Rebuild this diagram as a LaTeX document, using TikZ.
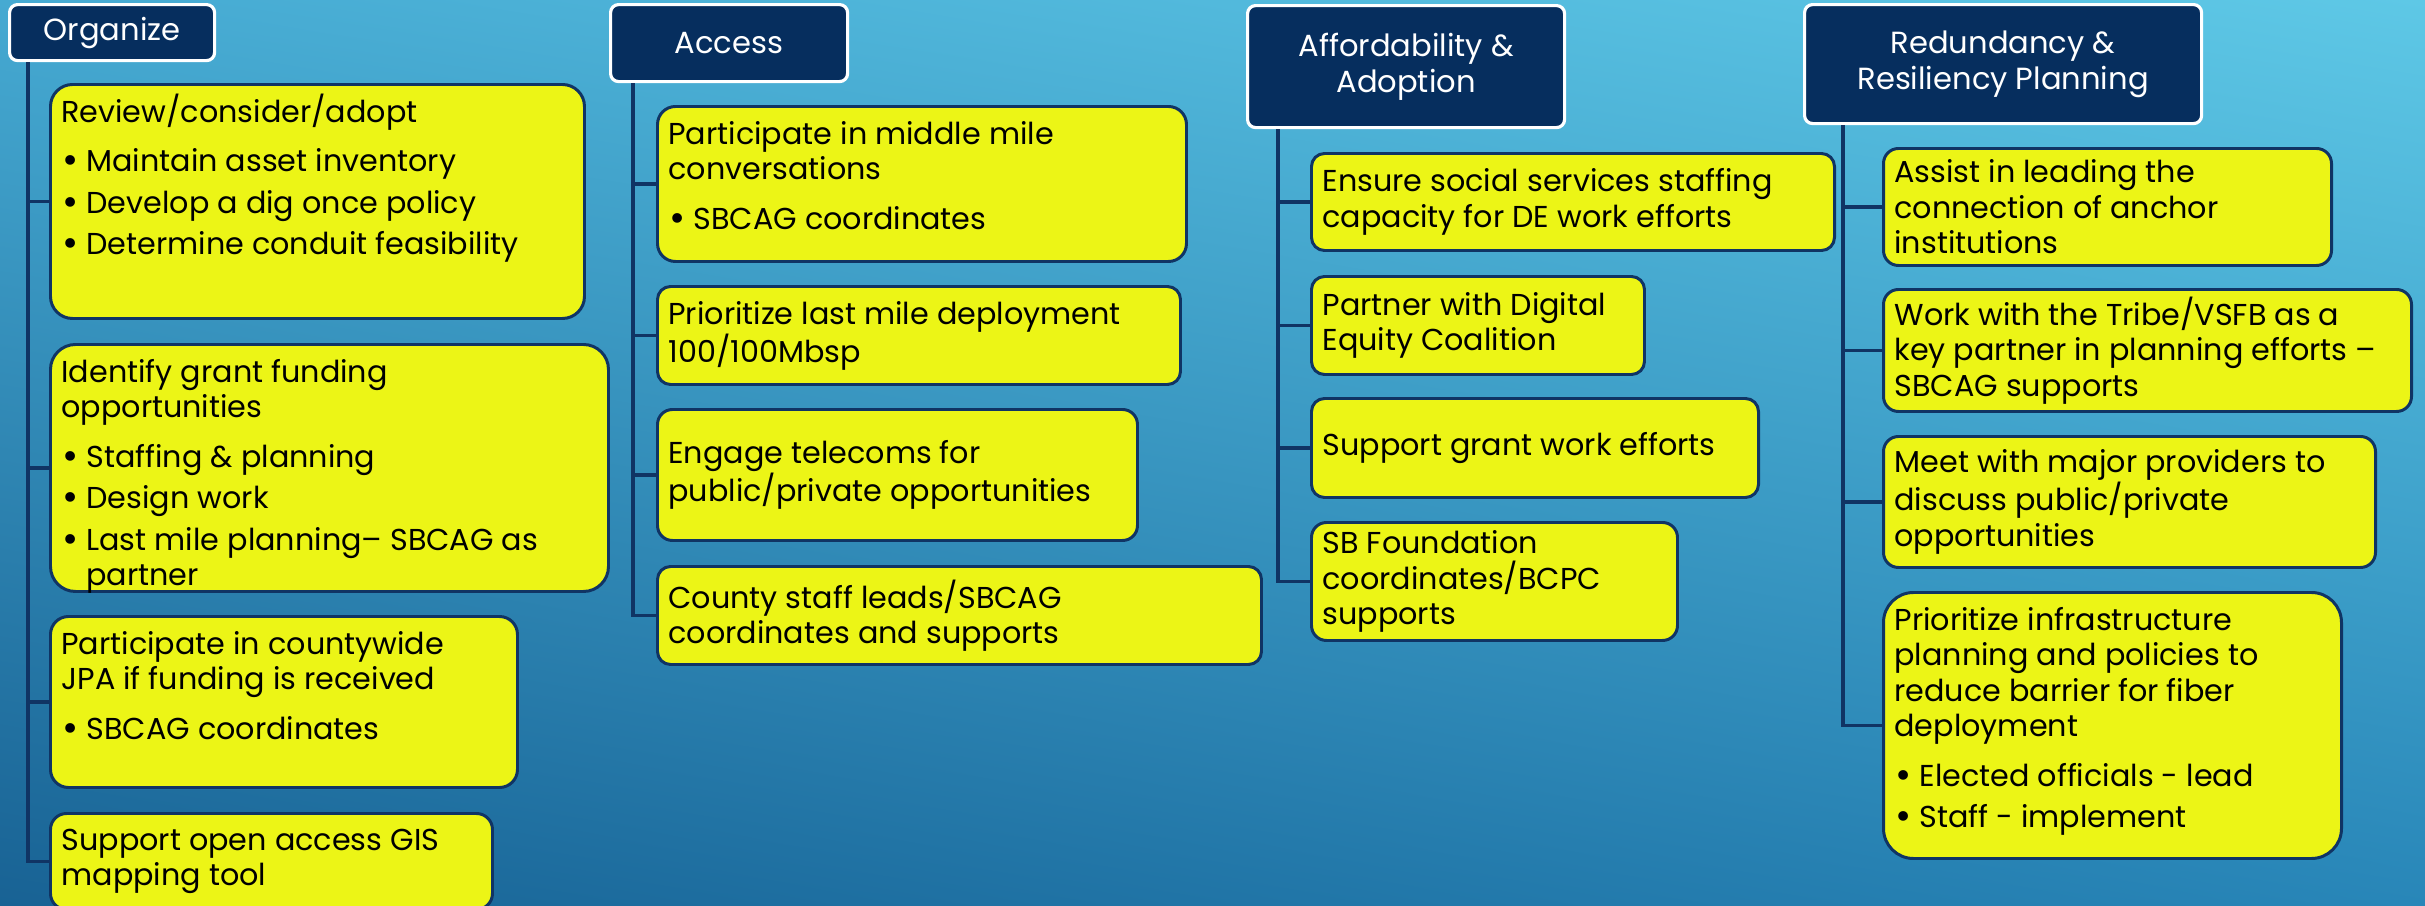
\documentclass[tikz,border=0pt]{standalone}
\usepackage{fontspec}
\setmainfont{Poppins}
\usetikzlibrary{positioning, shadings}
\definecolor{HeadColor}{RGB}{6,46,94}
\definecolor{CardColor}{RGB}{236,245,22}
\definecolor{EdgeColor}{RGB}{16,52,100}
\definecolor{SkyTopLeft}{RGB}{70,170,210}
\definecolor{SkyTopRight}{RGB}{94,200,230}
\definecolor{SkyLowLeft}{RGB}{24,98,148}
\definecolor{SkyLowRight}{RGB}{40,134,184}

% one pixel of the slide
\newdimen\px \px=0.02cm
\newcommand{\cardsetup}{\raggedright\fontsize{17.2}{20.2}\selectfont}
\newcommand{\toptext}[3]{\begin{minipage}[c][#2\px][t]{\dimexpr#1\px-22\px\relax}\cardsetup\rule{0pt}{38\px}#3\end{minipage}}
\newcommand{\midtext}[3]{\begin{minipage}[c][#2\px][c]{\dimexpr#1\px-22\px\relax}\cardsetup#3\end{minipage}}
\newcommand{\headtext}[3]{\begin{minipage}[c][#2\px][c]{#1\px}\centering\fontsize{17.4}{20.2}\selectfont#3\end{minipage}}
\newcommand{\bul}[2][6]{\par\vspace{#1\px}\hangindent=25\px\hangafter=1\noindent\hspace*{1\px}\makebox[24\px][l]{\raisebox{-0.1ex}{\scalebox{1.3}{\textbullet}}}#2}

\tikzset{
  head/.style={draw=white, line width=1.8pt, fill=HeadColor, text=white, rounded corners=0.16cm, inner sep=0pt, anchor=north west},
  card/.style={draw=EdgeColor, line width=1.7pt, fill=CardColor, inner xsep=0.22cm, inner ysep=0pt, anchor=north west},
  link/.style={draw=EdgeColor, line width=1.8pt}
}

\begin{document}
\begin{tikzpicture}[x=0.02cm, y=-0.02cm]
  % slide background
  \shade[upper left=SkyTopLeft, upper right=SkyTopRight, lower left=SkyLowLeft, lower right=SkyLowRight] (0,0) rectangle (2425,906);
  \useasboundingbox (0,0) rectangle (2425,906);
  \clip (0,0) rectangle (2425,906);

  % Organize
  \node[head] (org) at (8,3) {\headtext{205}{56}{Organize}};
  \node[card, rounded corners=0.44cm] (org1) at (49,83) {\toptext{534}{234}{Review/consider/adopt
      \bul[14]{Maintain asset inventory}
      \bul{Develop a dig once policy}
      \bul{Determine conduit feasibility}}};
  \node[card, rounded corners=0.5cm] (org2) at (49,343) {\toptext{558}{247}{Identify grant funding\\opportunities
      \bul[14]{Staffing \& planning}
      \bul{Design work}
      \bul{Last mile planning– SBCAG as\newline partner}}};
  \node[card, rounded corners=0.36cm] (org3) at (49,615) {\toptext{467}{171}{Participate in countywide\\JPA if funding is received
      \bul[14]{SBCAG coordinates}}};
  \node[card, rounded corners=0.32cm] (org4) at (49,812) {\midtext{442}{96}{Support open access GIS\\mapping tool}};

  % Access
  \node[head] (acc) at (609,3) {\headtext{237}{77}{Access}};
  \node[card, rounded corners=0.36cm] (acc1) at (656,105) {\toptext{529}{155}{Participate in middle mile\\conversations
      \bul[14]{SBCAG coordinates}}};
  \node[card, rounded corners=0.26cm] (acc2) at (656,285) {\midtext{523}{98}{Prioritize last mile deployment\\100/100Mbsp}};
  \node[card, rounded corners=0.3cm] (acc3) at (656,408) {\midtext{480}{131}{Engage telecoms for\\public/private opportunities}};
  \node[card, rounded corners=0.26cm] (acc4) at (656,565) {\midtext{604}{98}{County staff leads/SBCAG\\coordinates and supports}};

  % Affordability & Adoption
  \node[head] (aff) at (1246,4) {\headtext{317}{122}{Affordability \&\\Adoption}};
  \node[card, rounded corners=0.26cm] (aff1) at (1310,152) {\midtext{523}{97}{Ensure social services staffing\\capacity for DE work efforts}};
  \node[card, rounded corners=0.26cm] (aff2) at (1310,275) {\midtext{333}{98}{Partner with Digital\\Equity Coalition}};
  \node[card, rounded corners=0.26cm] (aff3) at (1310,397) {\midtext{447}{99}{Support grant work efforts}};
  \node[card, rounded corners=0.3cm] (aff4) at (1310,521) {\midtext{366}{118}{SB Foundation\\coordinates/BCPC\\supports}};

  % Redundancy & Resiliency Planning
  \node[head] (red) at (1803,3) {\headtext{397}{119}{Redundancy \&\\Resiliency Planning}};
  \node[card, rounded corners=0.3cm] (red1) at (1882,147) {\midtext{448}{117}{Assist in leading the\\connection of anchor\\institutions}};
  \node[card, rounded corners=0.3cm] (red2) at (1882,288) {\midtext{528}{122}{Work with the Tribe/VSFB as a\\key partner in planning efforts –\\SBCAG supports}};
  \node[card, rounded corners=0.3cm] (red3) at (1882,435) {\midtext{492}{131}{Meet with major providers to\\discuss public/private\\opportunities}};
  \node[card, rounded corners=0.6cm] (red4) at (1882,591) {\toptext{458}{266}{Prioritize infrastructure\\planning and policies to\\reduce barrier for fiber\\deployment
      \bul[14]{Elected officials - lead}
      \bul{Staff - implement}}};

  % spines
  \foreach \i in {1,...,4} {
    \draw[link] ([xshift=0.4cm]org.south west) |- (org\i.west);
    \draw[link] ([xshift=0.48cm]acc.south west) |- (acc\i.west);
    \draw[link] ([xshift=0.64cm]aff.south west) |- (aff\i.west);
    \draw[link] ([xshift=0.8cm]red.south west) |- (red\i.west);
  }
\end{tikzpicture}
\end{document}
